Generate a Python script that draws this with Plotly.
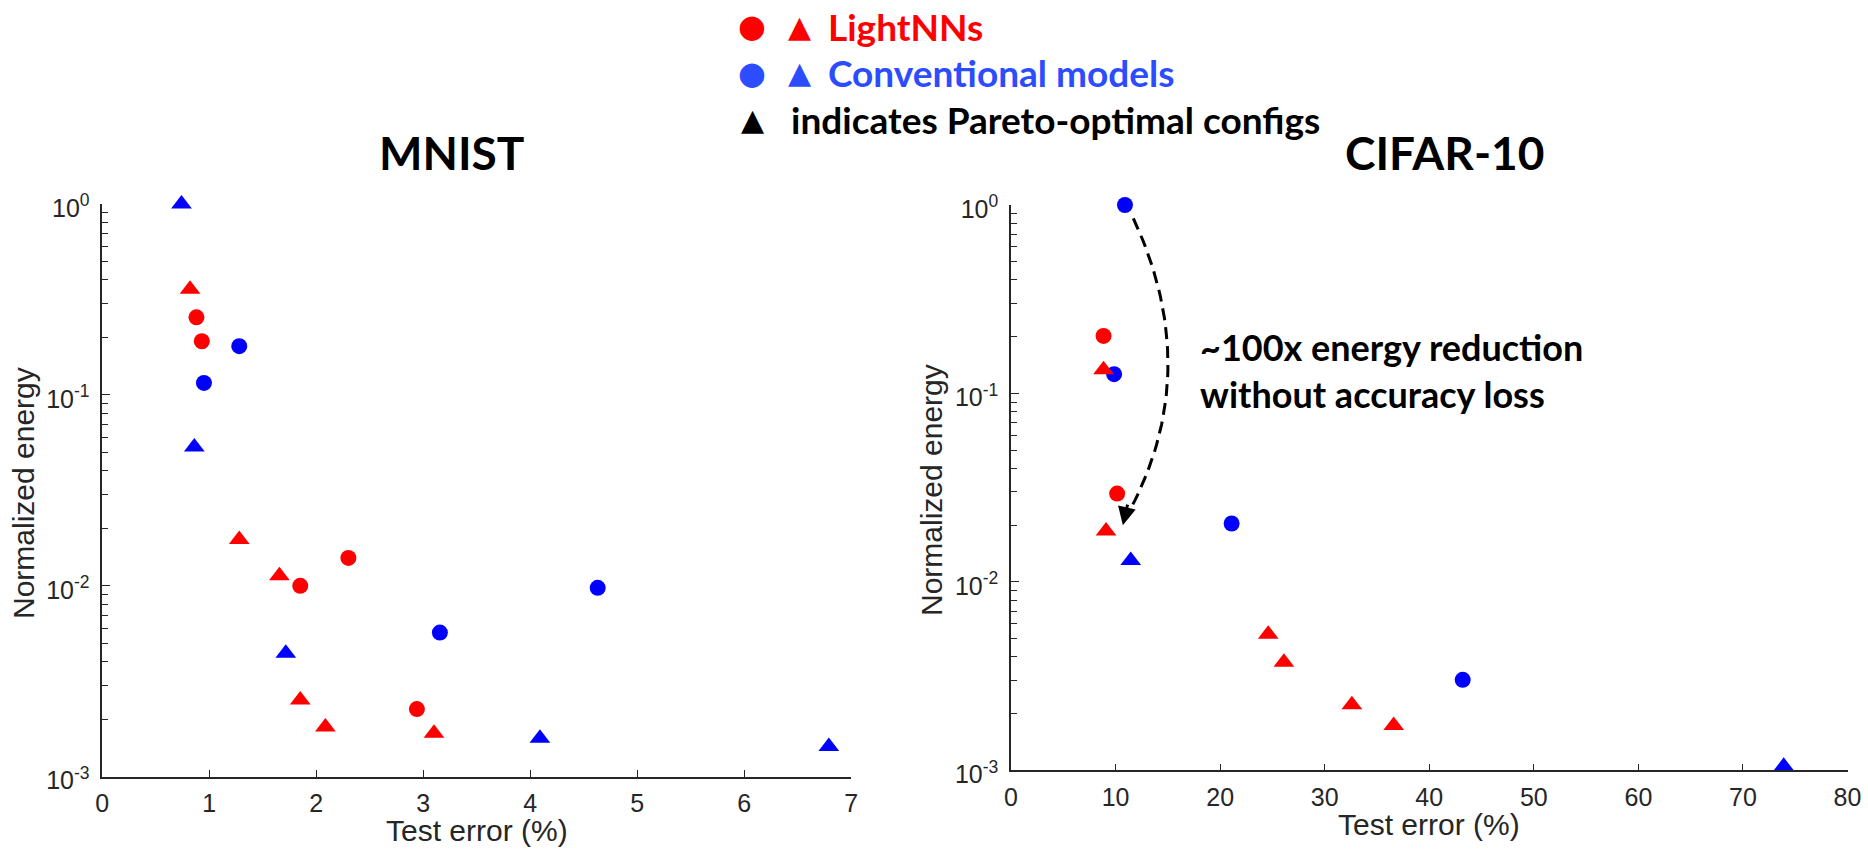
import plotly.graph_objects as go
import numpy as np

# ---------------- data ----------------
mnist_light_circle_x = [0.88, 0.93, 2.30, 1.85, 2.94]
mnist_light_circle_y = [0.255, 0.191, 0.0140, 0.0100, 0.00226]
mnist_light_tri_x = [0.82, 1.28, 1.655, 1.85, 2.085, 3.10]
mnist_light_tri_y = [0.358, 0.0175, 0.01128, 0.00252, 0.00182, 0.00169]
mnist_conv_circle_x = [1.28, 0.95, 4.63, 3.155]
mnist_conv_circle_y = [0.180, 0.1155, 0.00976, 0.00569]
mnist_conv_tri_x = [0.74, 0.86, 1.715, 4.09, 6.79]
mnist_conv_tri_y = [1.0, 0.0533, 0.00443, 0.00159, 0.00144]

cifar_light_circle_x = [8.85, 10.15]
cifar_light_circle_y = [0.202, 0.0294]
cifar_light_tri_x = [8.85, 9.09, 24.6, 26.1, 32.6, 36.6]
cifar_light_tri_y = [0.1335, 0.0186, 0.00527, 0.00375, 0.00223, 0.00173]
cifar_conv_circle_x = [10.9, 9.86, 21.1, 43.2]
cifar_conv_circle_y = [1.0, 0.1266, 0.0204, 0.00302]
cifar_conv_tri_x = [11.45, 73.9]
cifar_conv_tri_y = [0.0130, 0.00105]

y_tick_vals = [1e-3, 1e-2, 1e-1, 1]
y_tick_text = ["10<sup>-3</sup>", "10<sup>-2</sup>", "10<sup>-1</sup>", "10<sup>0</sup>"]
mnist_x_ticks = [0, 1, 2, 3, 4, 5, 6, 7]
cifar_x_ticks = [0, 10, 20, 30, 40, 50, 60, 70, 80]

# arrow guide points (x, energy): start, bulge, end of dashed curve
arrow_pts_x = [11.7, 15.0, 10.9]
arrow_pts_y = [0.85, 0.13, 0.0215]
arrow_tip = (10.7, 0.0200)

RED = "#ff0000"
BLUE = "#0000ff"
AX = "#262626"
W, H = 1868, 854

fig = go.Figure()


def add_pts(x, y, sym, color, xa, ya, size):
    fig.add_trace(go.Scatter(x=x, y=y, mode="markers", xaxis=xa, yaxis=ya,
                             marker=dict(symbol=sym, color=color, size=size, line=dict(width=0)),
                             cliponaxis=False, showlegend=False, hoverinfo="x+y"))


for xa, ya, sets in [
    ("x", "y", [(mnist_conv_circle_x, mnist_conv_circle_y, "circle", BLUE),
                (mnist_conv_tri_x, mnist_conv_tri_y, "triangle-up", BLUE),
                (mnist_light_circle_x, mnist_light_circle_y, "circle", RED),
                (mnist_light_tri_x, mnist_light_tri_y, "triangle-up", RED)]),
    ("x2", "y2", [(cifar_conv_circle_x, cifar_conv_circle_y, "circle", BLUE),
                  (cifar_conv_tri_x, cifar_conv_tri_y, "triangle-up", BLUE),
                  (cifar_light_circle_x, cifar_light_circle_y, "circle", RED),
                  (cifar_light_tri_x, cifar_light_tri_y, "triangle-up", RED)]),
]:
    for (x, y, sym, c) in sets:
        add_pts(x, y, sym, c, xa, ya, 16 if sym == "circle" else 18)

# dashed curved arrow (quadratic Bezier through the guide points, in x / log-y space)
p0 = np.array([arrow_pts_x[0], np.log10(arrow_pts_y[0])])
pm = np.array([arrow_pts_x[1], np.log10(arrow_pts_y[1])])
p2 = np.array([arrow_pts_x[2], np.log10(arrow_pts_y[2])])
p1 = 2 * pm - 0.5 * (p0 + p2)
t = np.linspace(0, 1, 60)[:, None]
curve = (1 - t) ** 2 * p0 + 2 * (1 - t) * t * p1 + t ** 2 * p2
fig.add_trace(go.Scatter(x=curve[:, 0], y=10 ** curve[:, 1], mode="lines", xaxis="x2", yaxis="y2",
                         line=dict(color="black", width=3, dash="12px,7px"),
                         cliponaxis=False, showlegend=False, hoverinfo="skip"))
fig.add_annotation(x=arrow_tip[0], y=np.log10(arrow_tip[1]), xref="x2", yref="y2",
                   ax=5, ay=-22, axref="pixel", ayref="pixel", showarrow=True, text="",
                   arrowhead=2, arrowsize=1.2, arrowwidth=3, arrowcolor="black")

SANS = "Liberation Sans, Arial, sans-serif"
tickfont = dict(family=SANS, size=25, color=AX)
minor_vals = [m * 10.0 ** e for e in (-3, -2, -1) for m in range(2, 10)]


def xaxis_cfg(domain, rng, ticks, anchor):
    return dict(domain=domain, range=rng, tickmode="array", tickvals=ticks, anchor=anchor,
                ticks="inside", ticklen=7, tickwidth=1.3, tickcolor=AX, automargin=False,
                showline=True, linecolor=AX, linewidth=1.5, showgrid=False, zeroline=False,
                tickfont=tickfont, ticklabelstandoff=4)


def yaxis_cfg(domain, anchor):
    return dict(domain=domain, type="log", range=[-3, 0], tickmode="array",
                tickvals=y_tick_vals, ticktext=y_tick_text, anchor=anchor, automargin=False,
                ticks="inside", ticklen=8, tickwidth=1.3, tickcolor=AX,
                minor=dict(tickmode="array", tickvals=minor_vals, ticks="inside", ticklen=6,
                           tickwidth=1.1, tickcolor=AX, showgrid=False),
                showline=True, linecolor=AX, linewidth=1.5, showgrid=False, zeroline=False,
                tickfont=tickfont, ticklabelstandoff=6, ticklabelshift=4)


fig.update_layout(
    template="none",
    width=W, height=H, margin=dict(l=0, r=0, t=0, b=0, pad=0),
    paper_bgcolor="white", plot_bgcolor="white", showlegend=False,
    xaxis=xaxis_cfg([102.3 / W, 851.3 / W], [0, 7], mnist_x_ticks, "y"),
    yaxis=yaxis_cfg([1 - 776.7 / H, 1 - 204 / H], "x"),
    xaxis2=xaxis_cfg([1011 / W, 1847.5 / W], [0, 80], cifar_x_ticks, "y2"),
    yaxis2=yaxis_cfg([1 - 770.3 / H, 1 - 205 / H], "x2"),
)

# axis titles (as annotations for exact placement)
for txt, xc, yc, ang in [("Test error (%)", 476.8, 830, 0), ("Test error (%)", 1429, 824, 0),
                         ("Normalized energy", 23, 493, -90), ("Normalized energy", 931, 490, -90)]:
    fig.add_annotation(x=xc / W, y=1 - yc / H, xref="paper", yref="paper", text=txt, textangle=ang,
                       showarrow=False, xanchor="center", yanchor="middle",
                       font=dict(family=SANS, size=30, color=AX))

BOLD = "Lato, Calibri, Carlito, sans-serif"
# titles
for txt, xc in [("MNIST", 451), ("CIFAR-10", 1444)]:
    fig.add_annotation(x=xc / W, y=1 - 153 / H, xref="paper", yref="paper", text="<b>%s</b>" % txt,
                       showarrow=False, xanchor="center", yanchor="middle",
                       font=dict(family=BOLD, size=46, color="black"))

# text near the arrow
fig.add_annotation(x=17.9, y=np.log10(0.132), xref="x2", yref="y2", xanchor="left", yanchor="middle",
                   align="left", showarrow=False,
                   text="<b>~100x energy reduction<br>without accuracy loss</b>",
                   font=dict(family=BOLD, size=36, color="black"))

# custom legend
LBLUE = "#2b4cff"
leg_rows = [(26, RED, RED, "LightNNs", True), (73, LBLUE, LBLUE, "Conventional models", True),
            (119, None, "black", "indicates Pareto-optimal configs", False)]
for yy, cc, tc, label, has_circle in leg_rows:
    yp = 1 - yy / H
    if has_circle:
        fig.add_annotation(x=752 / W, y=yp, xref="paper", yref="paper", text="\u25CF", showarrow=False,
                           xanchor="center", yanchor="middle",
                           font=dict(family="DejaVu Sans", size=32, color=cc))
        fig.add_annotation(x=799 / W, y=yp, xref="paper", yref="paper", text="\u25B2", showarrow=False,
                           xanchor="center", yanchor="middle",
                           font=dict(family="DejaVu Sans", size=30, color=cc))
        fig.add_annotation(x=826 / W, y=yp, xref="paper", yref="paper", text="<b>%s</b>" % label,
                           showarrow=False, xanchor="left", yanchor="middle",
                           font=dict(family=BOLD, size=37, color=tc))
    else:
        fig.add_annotation(x=752 / W, y=yp, xref="paper", yref="paper", text="\u25B2", showarrow=False,
                           xanchor="center", yanchor="middle",
                           font=dict(family="DejaVu Sans", size=30, color="black"))
        fig.add_annotation(x=789 / W, y=yp, xref="paper", yref="paper", text="<b>%s</b>" % label,
                           showarrow=False, xanchor="left", yanchor="middle",
                           font=dict(family=BOLD, size=37, color=tc))

fig.write_html("out.html", config={"displayModeBar": False},
               post_script="document.body.style.margin='0px';")
